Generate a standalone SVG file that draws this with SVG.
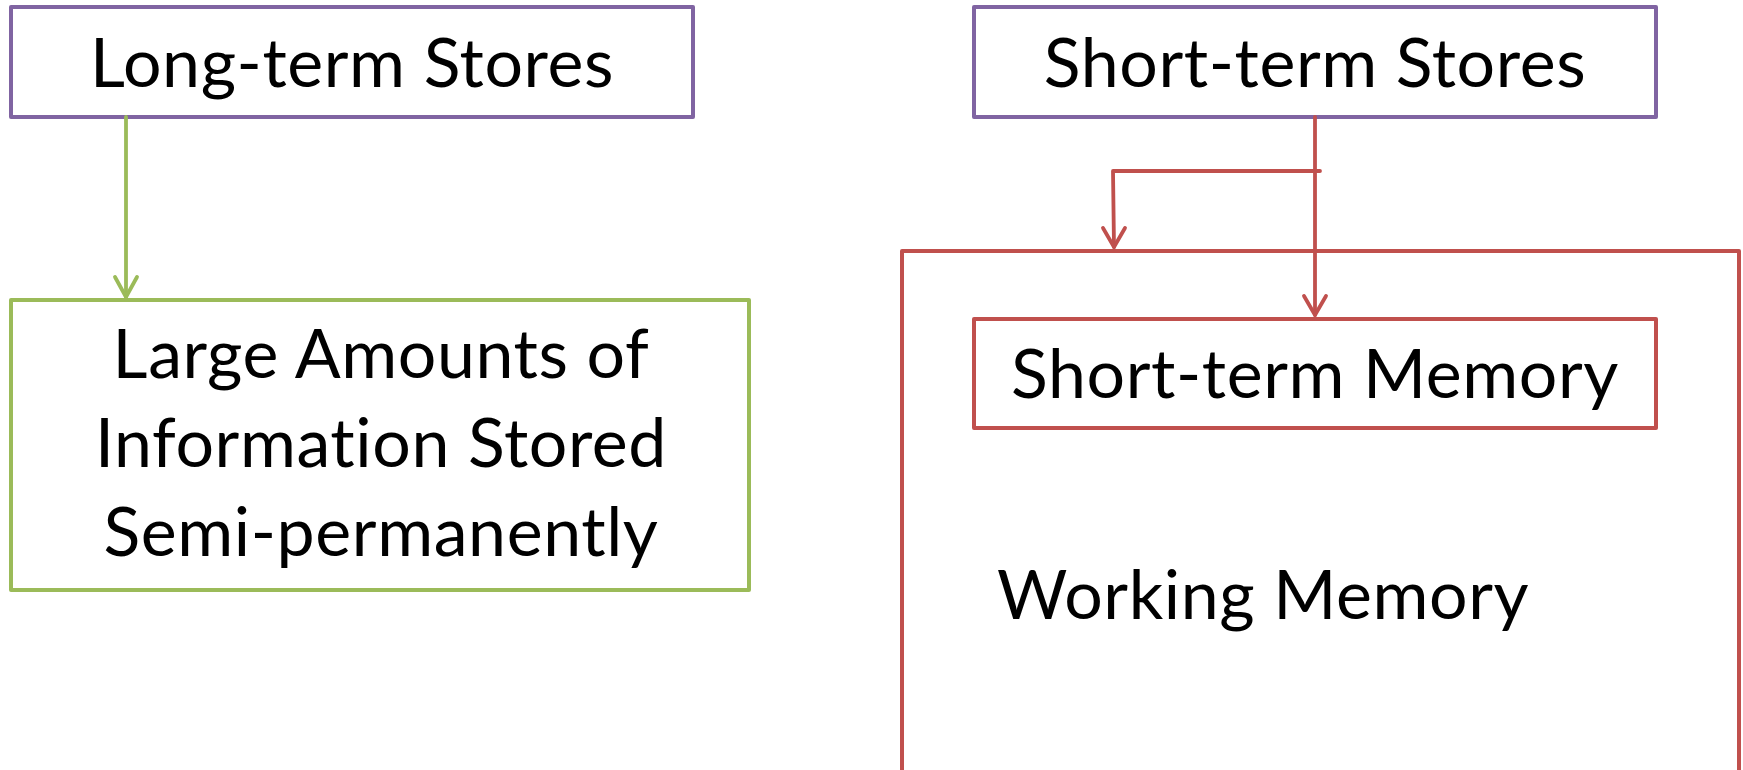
<svg xmlns="http://www.w3.org/2000/svg" width="1743" height="770" viewBox="0 0 1743 770">
<style>
.t{font-family:Lato,"Open Sans","Liberation Sans",sans-serif;font-size:68px;letter-spacing:0.6px;fill:#000;text-anchor:middle;font-variant-ligatures:none;font-feature-settings:"liga" 0}
.box{fill:#fff;stroke-width:4;stroke-linejoin:round}
.purple{stroke:#8064A2}
.green{stroke:#9BBB59}
.red{stroke:#C0504D}
.ln{fill:none;stroke-width:3.8;stroke-linecap:round;stroke-linejoin:round}
</style>
<rect width="1743" height="770" fill="#fff"/>
<g id="working-memory">
<rect class="box red" x="902" y="251" width="837" height="540"/>
<text class="t" x="997" y="619" style="text-anchor:start">Working Memory</text>
</g>
<g id="long-term-stores">
<rect class="box purple" x="11" y="7" width="682" height="110"/>
<text class="t" x="352" y="87">Long-term Stores</text>
</g>
<g id="large-amounts">
<rect class="box green" x="11" y="300" width="738" height="290"/>
<text class="t" x="381" y="378">Large Amounts of</text>
<text class="t" x="381" y="467">Information Stored</text>
<text class="t" x="381" y="556">Semi-permanently</text>
</g>
<g id="short-term-stores">
<rect class="box purple" x="974" y="7" width="682" height="110"/>
<text class="t" x="1315" y="87">Short-term Stores</text>
</g>
<g id="short-term-memory">
<rect class="box red" x="974" y="319" width="682" height="109"/>
<text class="t" x="1315" y="398">Short-term Memory</text>
</g>
<g id="connectors">
<path class="ln green" d="M126,117 L126,297"/>
<path class="ln green" d="M115,277 L126,297 L137,277"/>
<path class="ln red" d="M1315,117 L1315,315"/>
<path class="ln red" d="M1304,296 L1315,315 L1326,296"/>
<path class="ln red" d="M1320,171 L1113,171 L1114,247"/>
<path class="ln red" d="M1103,228 L1114,247 L1125,228"/>
</g>
</svg>
